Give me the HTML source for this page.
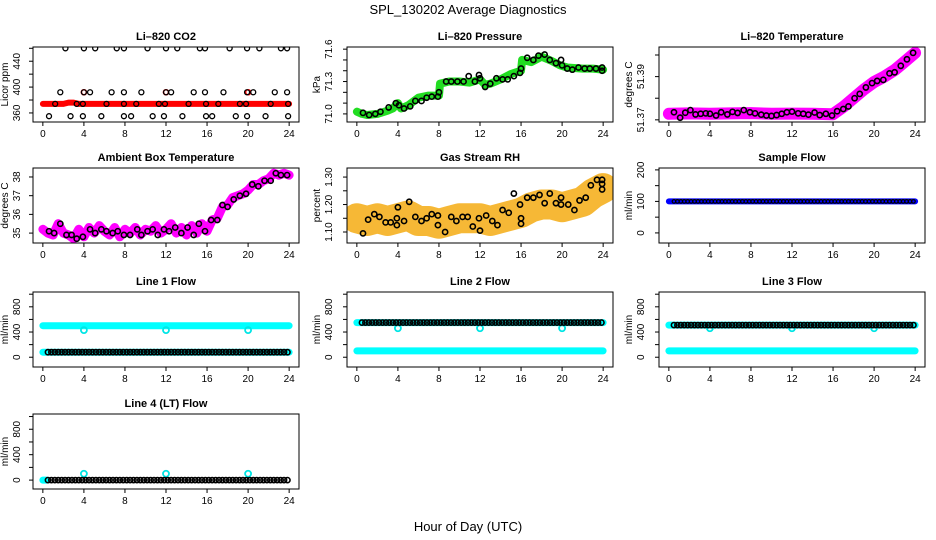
<!DOCTYPE html>
<html><head><meta charset="utf-8"><style>
body{margin:0;background:#fff}
svg{display:block;font-family:"Liberation Sans",Arial,sans-serif}
</style></head><body>
<svg id="chart" width="936" height="540" viewBox="0 0 936 540">
<text x="468" y="14" text-anchor="middle" font-size="13">SPL_130202  Average Diagnostics</text>
<text x="468" y="531" text-anchor="middle" font-size="13">Hour of Day (UTC)</text>
</svg>
<script>
// ---- data ----
const co2TopH=[2.2,4.0,5.1,7.2,7.9,10.2,12.0,13.1,15.3,15.8,18.2,19.9,21.1,23.2,23.8];
const co2MidH=[1.7,4.0,4.6,6.7,7.9,9.6,12.0,12.5,14.7,15.8,17.6,19.9,20.5,22.6,23.8];
const co2LineH=[1.2,3.3,3.9,6.2,7.9,9.1,11.3,11.9,14.2,15.9,17.1,19.2,19.8,22.2,23.9];
const co2LowH=[0.6,2.7,3.9,5.7,7.9,8.6,10.7,11.8,13.6,15.9,16.5,18.8,19.9,21.7,23.9];
const co2Levels=[460,392,374,355];
const co2BandH=[0,2,2.5,3,3.5,24];
const co2BandV=[374,374,376,376,374,374];
const co2RedH=[4,12,20];
const co2RedV=[392,392,392];

const presBandH=[0,0.5,1,2,3,3.5,4,4.3,5,6,7,8,8.1,9,10,11,12,12.5,13,14,15,16,16.1,17,18,19,19.8,20.5,22,23,24];
const presBandV=[71.02,71.0,70.99,71.0,71.03,71.05,71.1,71.05,71.08,71.15,71.17,71.17,71.28,71.3,71.3,71.29,71.32,71.27,71.28,71.32,71.37,71.4,71.5,71.48,71.53,71.49,71.45,71.43,71.42,71.42,71.41];
const presPtH=[0.6,1.2,1.8,2.3,3.1,3.8,4.1,4.6,5.2,5.7,6.3,6.8,7.3,7.9,8.0,8.7,9.2,9.8,10.4,10.9,11.5,11.9,12.0,12.5,13.0,13.6,14.2,14.7,15.3,15.9,16.0,16.6,17.2,17.7,18.3,18.8,19.4,19.9,20.0,20.5,21.0,21.6,22.2,22.7,23.3,23.9,23.9];
const presPtV=[71.01,70.99,71.0,71.02,71.06,71.1,71.08,71.05,71.07,71.12,71.12,71.15,71.16,71.16,71.2,71.3,71.3,71.3,71.3,71.35,71.3,71.36,71.33,71.25,71.28,71.33,71.32,71.32,71.35,71.38,71.42,71.52,71.5,71.54,71.55,71.5,71.47,71.5,71.45,71.42,71.41,71.43,71.42,71.42,71.42,71.43,71.4];

const tempBandH=[0,2,4,6,8,10,12,14,16,17,18,19,20,21,22,23,24];
const tempBandV=[51.3728,51.3730,51.3728,51.3730,51.3731,51.3728,51.3729,51.3728,51.3726,51.376,51.380,51.384,51.3875,51.390,51.393,51.397,51.401];
const tempPtH=[0.5,1.1,1.6,2.1,2.6,3.1,3.6,4.0,4.6,5.1,5.7,6.2,6.7,7.3,7.9,8.4,9.0,9.5,10.0,10.5,11.0,11.5,12.0,12.6,13.1,13.6,14.2,14.7,15.3,15.9,16.4,17.0,17.5,18.1,18.6,19.2,19.8,20.3,20.9,21.5,22.0,22.6,23.2,23.8];
const tempPtV=[51.3735,51.3710,51.3733,51.3745,51.3725,51.3728,51.3730,51.3728,51.3720,51.3735,51.3725,51.3737,51.3732,51.3745,51.3735,51.3730,51.3724,51.3720,51.3718,51.3722,51.3728,51.3735,51.3738,51.3730,51.3728,51.3724,51.3734,51.3722,51.3728,51.3720,51.3740,51.3750,51.3762,51.3800,51.3820,51.3850,51.3870,51.3880,51.3885,51.3915,51.3920,51.3950,51.3980,51.4010];

const ambBandH=[0,0.5,1,1.5,2,2.5,3,3.5,4,4.5,5,5.5,6,6.5,7,7.5,8,8.5,9,9.5,10,10.5,11,11.5,12,12.5,13,13.5,14,14.5,15,15.5,16,16.5,17,17.5,18,18.5,19,19.5,20,20.5,21,21.5,22,22.5,23,23.5,24];
const ambBandV=[35.2,35.0,34.9,35.5,35.0,34.9,34.7,35.2,34.8,35.3,35.0,35.4,35.1,34.9,35.3,34.8,35.2,35.0,35.3,34.9,35.2,35.1,35.4,35.0,35.2,35.5,35.0,35.3,34.9,35.4,35.0,35.5,35.1,35.7,35.8,36.4,36.5,36.9,37.0,37.1,37.3,37.6,37.6,37.8,37.9,38.2,38.1,38.2,38.1];
const ambPtH=[0.6,1.1,1.7,2.3,2.8,3.3,3.9,4.6,5.1,5.7,6.2,6.8,7.3,7.9,8.5,9.2,9.6,10.2,10.7,11.2,11.8,12.3,12.9,13.5,14.1,14.7,15.2,15.8,16.4,17.0,17.5,18.0,18.6,19.2,19.8,20.4,21.0,21.6,22.2,22.7,23.2,23.8];
const ambPtV=[35.1,35.0,35.5,34.9,34.9,34.7,34.8,35.2,35.0,35.2,35.1,35.0,35.1,34.9,34.9,35.2,34.9,35.1,35.2,34.9,35.2,35.1,35.3,35.0,35.3,34.9,35.5,35.1,35.7,35.7,36.5,36.4,36.8,37.0,37.1,37.6,37.5,37.8,37.8,38.2,38.1,38.1];

const rhBandH=[0,1,2,3,4,5,6,7,8,9,10,11,12,13,14,15,16,17,18,19,20,21,22,23,24];
const rhBandV=[1.15,1.14,1.15,1.14,1.15,1.16,1.14,1.14,1.13,1.14,1.15,1.15,1.15,1.14,1.15,1.16,1.17,1.19,1.20,1.20,1.19,1.20,1.21,1.24,1.26];
const rhPtH=[0.6,1.1,1.7,2.2,2.8,3.3,3.9,3.9,4.0,4.6,5.1,5.7,6.3,6.8,7.3,7.9,7.9,8.6,9.2,9.7,10.3,10.8,11.3,11.9,12.0,12.6,13.2,13.7,14.2,14.8,15.3,15.9,16.0,16.0,16.6,17.2,17.8,18.3,18.8,19.4,19.9,19.9,20.6,21.2,21.7,22.3,22.8,23.4,23.9,23.9,23.9];
const rhPtV=[1.095,1.145,1.165,1.155,1.135,1.135,1.125,1.15,1.19,1.14,1.21,1.155,1.14,1.15,1.165,1.125,1.16,1.10,1.155,1.14,1.155,1.155,1.12,1.15,1.105,1.16,1.14,1.125,1.18,1.17,1.24,1.20,1.13,1.15,1.225,1.225,1.235,1.205,1.24,1.205,1.225,1.20,1.20,1.18,1.215,1.225,1.27,1.29,1.29,1.255,1.275];

const sampleLevel=100;
const line1Cyan=[500,80];
const line1Black=80;
const line2Cyan=[550,100];
const line2Black=550;
const line3Cyan=[510,100];
const line3Black=510;
const line4Black=0;
const dipHours=[4,12,20];
const line1Dip=430;
const line2Dip=460;
const line3Dip=460;
const line4Dip=100;

// ---- layout ----
const NS="http://www.w3.org/2000/svg";
const svg=document.getElementById('chart');
const COLX=[33,347,659], W=266, ROWY=[47,168,292,414], H=75;
function mk(tag,attrs,parent){const e=document.createElementNS(NS,tag);for(const k in attrs)e.setAttribute(k,attrs[k]);(parent||svg).appendChild(e);return e;}
function panel(col,row,title,ylim,ticks,labels,ylab,name){
  const x0=COLX[col],y0=ROWY[row];
  const g=mk('g',{});
  
  
  const sx=h=>x0+(h+0.96)/25.92*W;
  const sy=v=>y0+H-(v-ylim[0])/(ylim[1]-ylim[0])*H;
  const t=mk('text',{x:x0+W/2,y:y0-7,'text-anchor':'middle','font-size':'11','font-weight':'bold'},g);t.textContent=title;
  
  
  const plot=mk('g',{},g);
  const clip=mk('clipPath',{id:'c'+name},g);mk('rect',{x:x0,y:y0,width:W,height:H},clip);
  plot.setAttribute('clip-path','url(#c'+name+')');
  const fr=mk('rect',{x:x0,y:y0,width:W,height:H,fill:'none',stroke:'#000','stroke-width':1},g);
  
  
  const xa=mk('g',{},g);
  
  
  mk('line',{x1:sx(0),x2:sx(24),y1:y0+H,y2:y0+H,stroke:'#000'},xa);
  for(let h=0;h<=24;h+=4){
    mk('line',{x1:sx(h),x2:sx(h),y1:y0+H,y2:y0+H+4,stroke:'#000'},xa);
    const tl=mk('text',{x:sx(h),y:y0+H+15,'text-anchor':'middle','font-size':'10'},xa);tl.textContent=h;
  }
  const ya=mk('g',{},g);
  
  
  mk('line',{x1:x0,x2:x0,y1:sy(ticks[0]),y2:sy(ticks[ticks.length-1]),stroke:'#000'},ya);
  ticks.forEach(v=>{mk('line',{x1:x0-4,x2:x0,y1:sy(v),y2:sy(v),stroke:'#000'},ya);});
  labels.forEach(l=>{const tx=x0-(col==0?13:15),ty=sy(l[0]);const tl=mk('text',{x:tx,y:ty,'text-anchor':'middle','font-size':'10',transform:`rotate(-90 ${tx} ${ty})`},ya);tl.textContent=l[1];});
  const lx=x0-(col==0?25:27),ly=y0+H/2;
  const yl=mk('text',{x:lx,y:ly,'text-anchor':'middle','font-size':'10',transform:`rotate(-90 ${lx} ${ly})`},g);yl.textContent=ylab;
  
  
  return {sx,sy,plot};
}
function band(p,hs,vs,color,w,name,op){
  const pts=hs.map((h,i)=>p.sx(h).toFixed(1)+','+p.sy(vs[i]).toFixed(1)).join(' ');
  const e=mk('polyline',{points:pts,fill:'none',stroke:color,'stroke-width':w,'stroke-linejoin':'round','stroke-linecap':'round',opacity:op||1},p.plot);
  
  
}
function pts(p,hs,vs,color,r,name,sw){
  const g=mk('g',{},p.plot);
  
  
  hs.forEach((h,i)=>{mk('circle',{cx:p.sx(h),cy:p.sy(vs[i]),r:r,fill:'none',stroke:color,'stroke-width':sw||1.6},g);});
}
const grid=[];for(let h=0.5;h<=24;h+=1/3)grid.push(h);
const rep=(arr,v)=>arr.map(()=>v);

let p=panel(0,0,'Li\u2013820 CO2',[346,462],[360,380,400,420,440,460],[[360,'360'],[400,'400'],[440,'440']],'Licor ppm','co2');
band(p,co2BandH,co2BandV,'#ff0000',6,'co2-red-band');
pts(p,co2RedH,co2RedV,'#ff0000',2.5,'co2-red-points');
[co2TopH,co2MidH,co2LineH,co2LowH].forEach((hs,i)=>pts(p,hs,rep(hs,co2Levels[i]),'#000',2.5,'co2-points-'+i,1.3));

p=panel(1,0,'Li\u2013820 Pressure',[70.925,71.62],[71.0,71.1,71.2,71.3,71.4,71.5,71.6],[[71.0,'71.0'],[71.3,'71.3'],[71.6,'71.6']],'kPa','pressure');
band(p,presBandH,presBandV,'#22dd22',8,'pressure-green-band');
pts(p,presPtH,presPtV,'#000',2.6,'pressure-points');

p=panel(2,0,'Li\u2013820 Temperature',[51.369,51.4037],[51.37,51.38,51.39,51.40],[[51.37,'51.37'],[51.39,'51.39']],'degrees C','temperature');
band(p,tempBandH,tempBandV,'#ff00ff',12,'temperature-magenta-band');
pts(p,tempPtH,tempPtV,'#000',2.6,'temperature-points');

p=panel(0,1,'Ambient Box Temperature',[34.47,38.48],[35,36,37,38],[[35,'35'],[36,'36'],[37,'37'],[38,'38']],'degrees C','ambient');
band(p,ambBandH,ambBandV,'#ff00ff',9,'ambient-magenta-band');
pts(p,ambPtH,ambPtV,'#000',2.6,'ambient-points');

p=panel(1,1,'Gas Stream RH',[1.06,1.333],[1.10,1.15,1.20,1.25,1.30],[[1.10,'1.10'],[1.20,'1.20'],[1.30,'1.30']],'percent','rh');
band(p,rhBandH,rhBandV,'#f5b020',30,'rh-orange-cloud',0.9);
pts(p,rhPtH,rhPtV,'#000',2.6,'rh-points');

p=panel(2,1,'Sample Flow',[-32,206],[0,50,100,150,200],[[0,'0'],[100,'100'],[200,'200']],'ml/min','sample-flow');
band(p,[0,24],[sampleLevel,sampleLevel],'#0000ff',6,'sample-flow-blue-band');
pts(p,grid,rep(grid,sampleLevel),'#000',1.8,'sample-flow-points',1.2);

const flowTicks=[0,200,400,600,800,1000], flowLabels=[[0,'0'],[400,'400'],[800,'800']];
function flow(col,row,title,name,cyan,black,dip){
  const q=panel(col,row,title,[-155,1035],flowTicks,flowLabels,'ml/min',name);
  cyan.forEach((v,i)=>band(q,[0,24],[v,v],'#00ffff',7,name+'-cyan-band-'+i));
  pts(q,dipHours,rep(dipHours,dip),'#00e5e5',3,name+'-cyan-dips',1.8);
  pts(q,grid,rep(grid,black),'#000',2.6,name+'-black-points',1.6);
}
flow(0,2,'Line 1 Flow','line1-flow',line1Cyan,line1Black,line1Dip);
flow(1,2,'Line 2 Flow','line2-flow',line2Cyan,line2Black,line2Dip);
flow(2,2,'Line 3 Flow','line3-flow',line3Cyan,line3Black,line3Dip);
const q4=panel(0,3,'Line 4 (LT) Flow',[-140,1040],flowTicks,flowLabels,'ml/min','line4-flow');
band(q4,[0,0.4],[line4Black,line4Black],'#00ffff',7,'line4-flow-cyan-start');
pts(q4,dipHours,rep(dipHours,line4Dip),'#00e5e5',3,'line4-flow-cyan-dips',1.8);
pts(q4,grid,rep(grid,line4Black),'#000',2.6,'line4-flow-black-points',1.6);
</script>
</body></html>
